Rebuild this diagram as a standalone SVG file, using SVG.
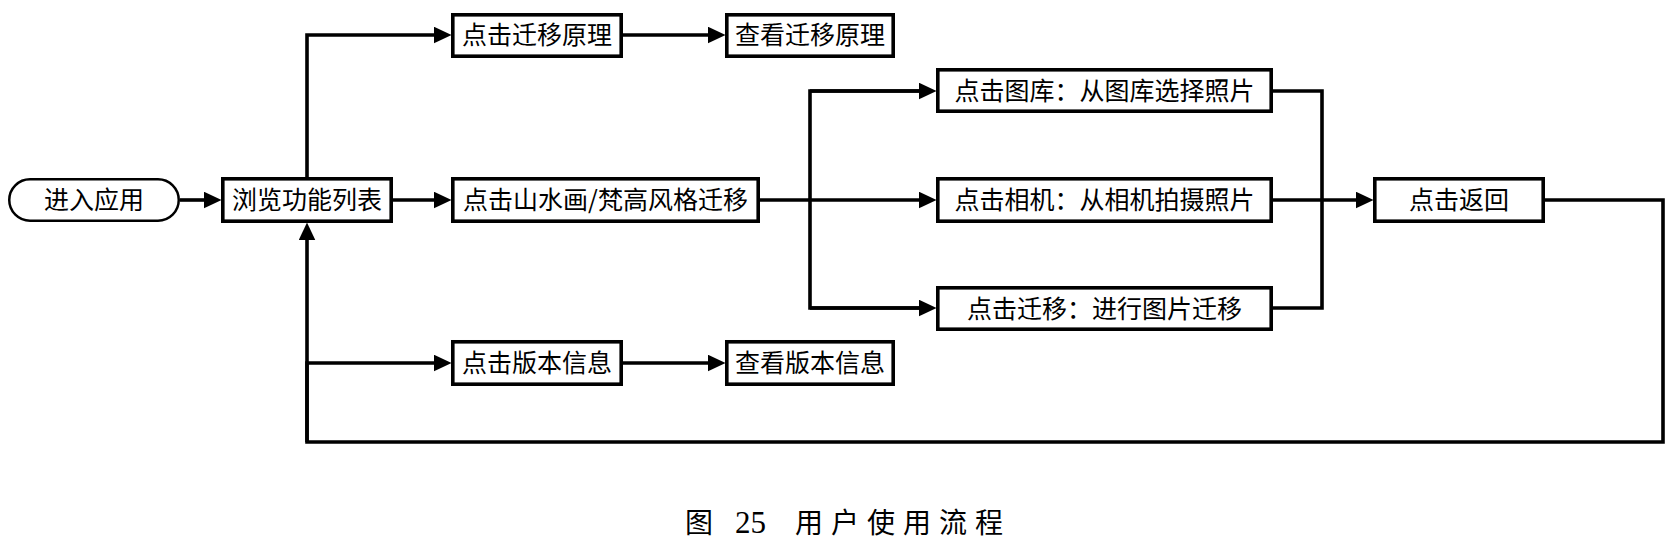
<svg xmlns="http://www.w3.org/2000/svg" width="1675" height="552" viewBox="0 0 1675 552">
<style>
.box{fill:#fff;stroke:#000;stroke-width:3.6}
.term{fill:#fff;stroke:#000;stroke-width:2.5}
.t{font-family:"Noto Sans CJK SC","Noto Sans CJK JP",sans-serif;font-size:25px;fill:#000;text-anchor:middle}
.c{fill:none;stroke:#000;stroke-width:3.6;stroke-linejoin:miter}
.cap{font-family:"Noto Sans CJK SC","Noto Sans CJK JP",serif;font-size:28px;fill:#000}
</style>
<defs>
<marker id="ah" markerUnits="userSpaceOnUse" markerWidth="18" markerHeight="17" refX="7" refY="8" orient="auto" viewBox="0 0 17 16">
<path d="M0,0 L17,8 L0,16 z" fill="#000"/>
</marker>
</defs>
<rect width="1675" height="552" fill="#fff"/>
<g id="connectors">
<path class="c" d="M180,200 H211" marker-end="url(#ah)"/>
<path class="c" d="M307,177 V35 H441" marker-end="url(#ah)"/>
<path class="c" d="M393,200 H441" marker-end="url(#ah)"/>
<path class="c" d="M307,442 V363 H441" marker-end="url(#ah)"/>
<path class="c" d="M623,35 H715" marker-end="url(#ah)"/>
<path class="c" d="M623,363 H715" marker-end="url(#ah)"/>
<path class="c" d="M760,200 H926" marker-end="url(#ah)"/>
<path class="c" d="M926,91 H810 V308 H926"/>
<path class="c" d="M810,91 H926" marker-end="url(#ah)"/>
<path class="c" d="M810,308 H926" marker-end="url(#ah)"/>
<path class="c" d="M1273,91 H1322 V308 H1273"/>
<path class="c" d="M1273,200 H1363" marker-end="url(#ah)"/>
<path class="c" d="M1545,200 H1663 V442 H307 V233" marker-end="url(#ah)"/>
</g>
<g id="n_start"><rect class="term" x="9.25" y="179.25" width="169.5" height="41.5" rx="20.75"/><text class="t" x="94" y="209">进入应用</text></g>
<g id="n_browse"><rect class="box" x="222.8" y="178.8" width="168.4" height="42.4"/><text class="t" x="307" y="209">浏览功能列表</text></g>
<g id="n_principle"><rect class="box" x="452.8" y="14.8" width="168.4" height="41.4"/><text class="t" x="537" y="44">点击迁移原理</text></g>
<g id="n_view_principle"><rect class="box" x="726.8" y="14.8" width="166.4" height="41.4"/><text class="t" x="810" y="44">查看迁移原理</text></g>
<g id="n_style"><rect class="box" x="452.8" y="178.8" width="305.4" height="42.4"/><text class="t" x="605.5" y="209">点击山水画/梵高风格迁移</text></g>
<g id="n_version"><rect class="box" x="452.8" y="341.8" width="168.4" height="42.4"/><text class="t" x="537" y="372">点击版本信息</text></g>
<g id="n_view_version"><rect class="box" x="726.8" y="341.8" width="166.4" height="42.4"/><text class="t" x="810" y="372">查看版本信息</text></g>
<g id="n_gallery"><rect class="box" x="937.8" y="69.8" width="333.4" height="41.4"/><text class="t" x="1104.5" y="99.5">点击图库：从图库选择照片</text></g>
<g id="n_camera"><rect class="box" x="937.8" y="178.8" width="333.4" height="42.4"/><text class="t" x="1104.5" y="209">点击相机：从相机拍摄照片</text></g>
<g id="n_transfer"><rect class="box" x="937.8" y="287.8" width="333.4" height="41.4"/><text class="t" x="1104.5" y="317.5">点击迁移：进行图片迁移</text></g>
<g id="n_back"><rect class="box" x="1374.8" y="178.8" width="168.4" height="42.4"/><text class="t" x="1459" y="209">点击返回</text></g>
<text class="cap" y="533"><tspan x="685">图</tspan><tspan x="735" font-family="Liberation Serif" font-size="31">25</tspan><tspan x="795 831 867 903 939 975">用户使用流程</tspan></text>
</svg>
